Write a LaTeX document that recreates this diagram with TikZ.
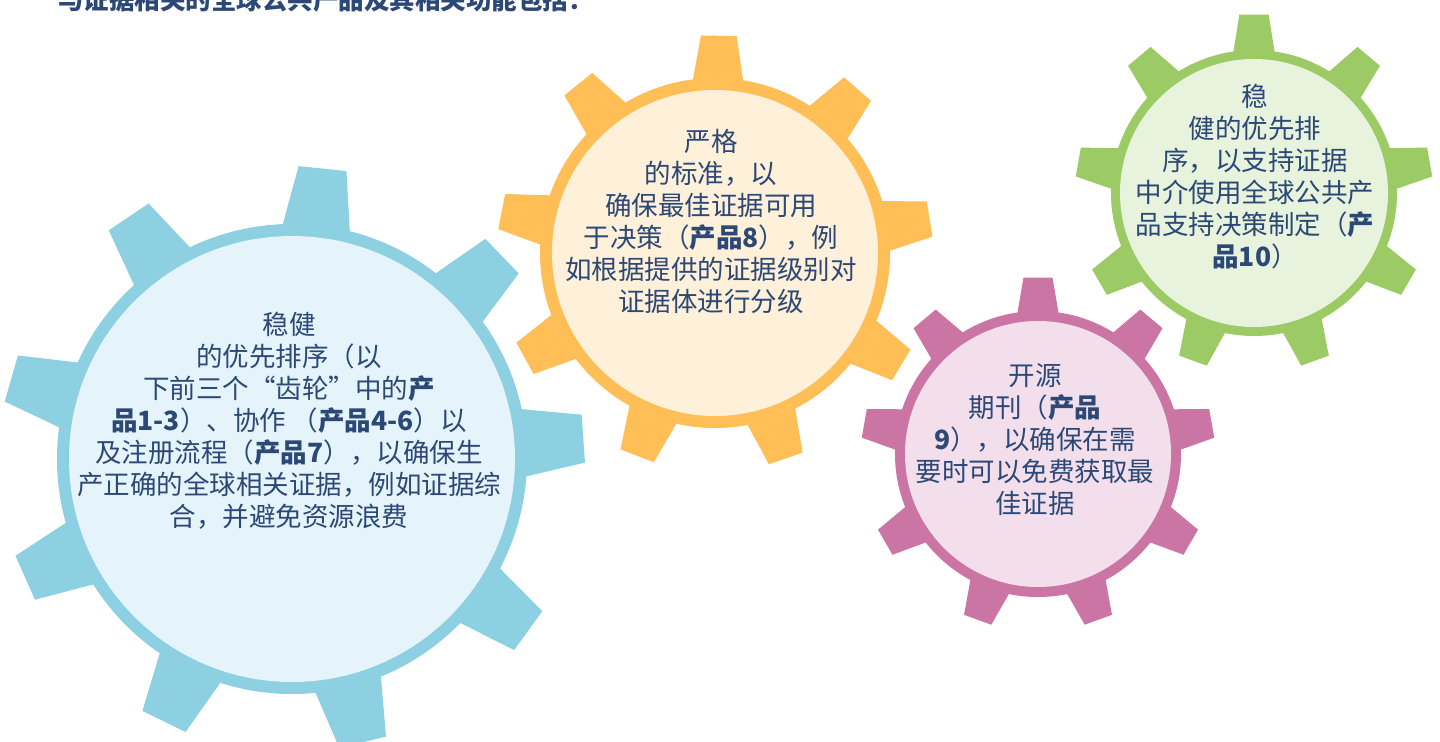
\documentclass[tikz,border=0pt]{standalone}
\usepackage{fontspec}
\newfontfamily\cjk{Noto Sans CJK SC}
\definecolor{txt}{RGB}{44,72,118}
\definecolor{blueR}{RGB}{141,208,226}
\definecolor{blueI}{RGB}{228,244,250}
\definecolor{orR}{RGB}{255,190,86}
\definecolor{orI}{RGB}{254,240,217}
\definecolor{pkR}{RGB}{203,117,164}
\definecolor{pkI}{RGB}{242,223,235}
\definecolor{gnR}{RGB}{156,203,101}
\definecolor{gnI}{RGB}{231,243,221}
% #1 cx, #2 cy, #3 body radius, #4 inner radius, #5 tip radius, #6 tooth offset, #7 ring colour, #8 inner colour
\newcommand{\drawgear}[8]{%
  \begin{scope}[shift={(#1,#2)}]
    \fill[#7] (0,0) circle (#3);
    \foreach \a in {0,40,...,320}{
      \fill[#7] (#6+\a-9.0:#3*0.96) -- (#6+\a-4.7:#5) -- (#6+\a+4.7:#5) -- (#6+\a+9.0:#3*0.96) -- cycle;
    }
    \fill[#8] (0,0) circle (#4);
  \end{scope}}
\begin{document}
\begin{tikzpicture}[x=0.5pt,y=0.5pt,
  gtext/.style={align=center, text=txt, inner sep=0pt,
    font=\cjk\fontsize{13.25pt}{16pt}\selectfont}]
\useasboundingbox (0,0) rectangle (1440,741);
\clip (0,0) rectangle (1440,741);
\fill[white] (0,0) rectangle (1440,741);

\drawgear{292}{282}{235}{223}{293}{4}{blueR}{blueI}
\drawgear{715}{488}{175}{163}{218}{9}{orR}{orI}
\drawgear{1038}{287}{143}{133}{177}{10}{pkR}{pkI}
\drawgear{1254}{548}{143}{134}{179}{10}{gnR}{gnI}

\node[anchor=base west, text=txt, inner sep=0pt,
  font=\cjk\bfseries\fontsize{12.75pt}{15pt}\selectfont] (title) at (58,731)
  {与证据相关的全球公共产品及其相关功能包括：};

\node[gtext] (bluetext) at (289,320) {稳健\\的优先排序（以\\下前三个“齿轮”中的\textbf{产}\\\textbf{品1-3}）、协作 （\textbf{产品4-6}）以\\及注册流程（\textbf{产品7}），以确保生\\产正确的全球相关证据，例如证据综\\合，并避免资源浪费};

\node[gtext] (orangetext) at (711,520) {严格\\的标准，以\\确保最佳证据可用\\于决策（\textbf{产品8}），例\\如根据提供的证据级别对\\证据体进行分级};

\node[gtext] (pinktext) at (1035,301) {开源\\期刊（\textbf{产品}\\\textbf{9}），以确保在需\\要时可以免费获取最\\佳证据};

\node[gtext] (greentext) at (1255,564) {稳\\健的优先排\\序，以支持证据\\中介使用全球公共产\\品支持决策制定（\textbf{产}\\\textbf{品10}）};
\end{tikzpicture}
\end{document}
